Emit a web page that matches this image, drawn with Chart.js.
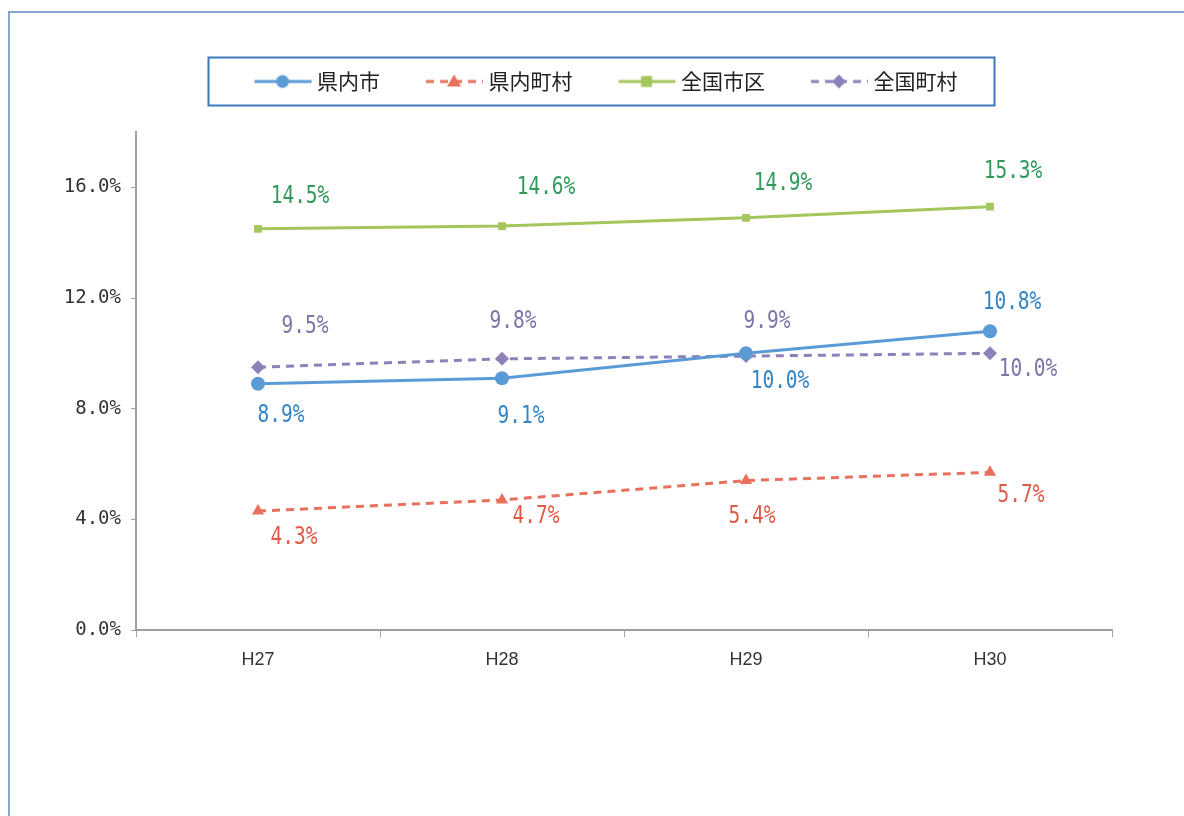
<!DOCTYPE html>
<html><head><meta charset="utf-8">
<script src="https://cdn.jsdelivr.net/npm/chart.js@4/dist/chart.umd.min.js"></script>
<style>
html,body{margin:0;padding:0;background:#fff;}
#wrap{position:relative;width:1184px;height:816px;overflow:hidden;background:#fff;}
#frame{position:absolute;left:8px;top:11px;width:1220px;height:900px;border-left:2px solid #86A9D2;border-top:2px solid #86A9D2;box-sizing:border-box;}
canvas{position:absolute;left:0;top:0;}
</style></head><body>
<div id="wrap"><div id="frame"></div><canvas id="c" width="1184" height="816"></canvas></div>
<script>
// ---- data ----
const categories = ['H27', 'H28', 'H29', 'H30'];
const seriesNames = ['県内市', '県内町村', '全国市区', '全国町村'];
const kennaiShi = [8.9, 9.1, 10.0, 10.8];
const kennaiChoson = [4.3, 4.7, 5.4, 5.7];
const zenkokuShiku = [14.5, 14.6, 14.9, 15.3];
const zenkokuChoson = [9.5, 9.8, 9.9, 10.0];
const yTickValues = [0, 4, 8, 12, 16];

// ---- styles ----
const lineColors = ['#5B9BD5', '#E8705C', '#A4C65C', '#8E80B8'];
const labelColors = ['#3385C6', '#E05A48', '#2F9A5A', '#7E74A8'];
const labelOffsets = [
  [[23, 32], [19, 38], [34, 28], [22, -29]],
  [[36, 26], [34, 17], [6, 36], [31, 23]],
  [[42, -32], [44, -39], [37, -34], [23, -35]],
  [[47, -41], [11, -37], [21, -35], [38, 16]]
];

function legendIcon(color, dash, style) {
  const c = document.createElement('canvas');
  c.width = 64; c.height = 20;
  const g = c.getContext('2d');
  g.strokeStyle = color; g.fillStyle = color; g.lineWidth = 3;
  g.setLineDash(dash);
  g.beginPath(); g.moveTo(6, 10); g.lineTo(63, 10); g.stroke();
  g.setLineDash([]);
  const cx = 34;
  g.beginPath();
  if (style === 'circle') { g.arc(cx, 10, 6.5, 0, Math.PI * 2); }
  else if (style === 'triangle') { g.moveTo(cx, 3); g.lineTo(cx + 7, 15); g.lineTo(cx - 7, 15); g.closePath(); }
  else if (style === 'rect') { g.rect(cx - 5.5, 4.5, 11, 11); }
  else { g.moveTo(cx, 3); g.lineTo(cx + 7, 10); g.lineTo(cx, 17); g.lineTo(cx - 7, 10); g.closePath(); }
  g.fill();
  return c;
}

const pointStyles = ['circle', 'triangle', 'rect', 'rectRot'];
const dashes = [[], [8, 6], [], [8, 6]];
const seriesData = [kennaiShi, kennaiChoson, zenkokuShiku, zenkokuChoson];
const pointRadii = [7, 7, 5.5, 7];
const icons = seriesNames.map((n, i) => legendIcon(lineColors[i], dashes[i], pointStyles[i]));

const datasets = seriesNames.map((name, i) => ({
  label: name,
  data: seriesData[i],
  borderColor: lineColors[i],
  backgroundColor: lineColors[i],
  borderWidth: 3,
  borderDash: dashes[i],
  pointStyle: pointStyles[i],
  pointRadius: pointRadii[i],
  pointBorderWidth: 0,
  pointBackgroundColor: lineColors[i],
  tension: 0,
  fill: false
}));

const legendSpacer = {
  id: 'legendSpacer',
  afterInit(chart, args, opts) {
    const lg = chart.legend;
    if (!lg) return;
    const orig = lg.fit;
    lg.fit = function () { orig.call(this); this.height += opts.extra; };
  },
  afterLayout(chart, args, opts) {
    const lg = chart.legend;
    if (!lg) return;
    lg.left += opts.shift; lg.right += opts.shift;
  }
};

const legendFrame = {
  id: 'legendFrame',
  afterDraw(chart, args, opts) {
    const lg = chart.legend;
    if (!lg || !lg.legendHitBoxes || !lg.legendHitBoxes.length) return;
    const hb = lg.legendHitBoxes;
    const l = Math.min(...hb.map(h => h.left)) - opts.padL;
    const r = Math.max(...hb.map(h => h.left + h.width)) + opts.padR;
    const t = Math.min(...hb.map(h => h.top)) - opts.padY;
    const b = Math.max(...hb.map(h => h.top + h.height)) + opts.padY;
    const ctx = chart.ctx;
    ctx.save();
    ctx.strokeStyle = opts.color; ctx.lineWidth = 2;
    ctx.strokeRect(l, t, r - l, b - t);
    ctx.restore();
  }
};

const pointLabels = {
  id: 'pointLabels',
  afterDatasetsDraw(chart, args, opts) {
    const ctx = chart.ctx;
    chart.data.datasets.forEach((ds, i) => {
      const meta = chart.getDatasetMeta(i);
      meta.data.forEach((pt, j) => {
        const off = opts.offsets[i][j];
        ctx.save();
        ctx.translate(pt.x + off[0], pt.y + off[1]);
        ctx.scale(opts.scaleX, 1);
        ctx.font = opts.font;
        ctx.fillStyle = opts.colors[i];
        ctx.textAlign = 'center';
        ctx.textBaseline = 'middle';
        ctx.fillText(ds.data[j].toFixed(1) + '%', 0, 0);
        ctx.restore();
      });
    });
  }
};

new Chart(document.getElementById('c'), {
  type: 'line',
  data: { labels: categories, datasets: datasets },
  plugins: [legendSpacer, legendFrame, pointLabels],
  options: {
    responsive: false,
    devicePixelRatio: 1,
    animation: false,
    layout: { padding: { left: 56, right: 72, top: 25, bottom: 126 } },
    plugins: {
      tooltip: { enabled: false },
      legendSpacer: { extra: 30, shift: 22 },
      legendFrame: { color: '#3A78B8', padL: 46, padR: 37, padY: 13.5 },
      pointLabels: { offsets: labelOffsets, colors: labelColors, font: '25px "DejaVu Sans Mono", monospace', scaleX: 0.78 },
      legend: {
        position: 'top',
        labels: {
          usePointStyle: true,
          pointStyleWidth: 52,
          padding: 46,
          color: '#222',
          font: { family: '"Noto Sans CJK JP", sans-serif', size: 21 },
          generateLabels(chart) {
            return chart.data.datasets.map((ds, i) => ({
              text: ds.label,
              pointStyle: icons[i],
              fillStyle: ds.borderColor,
              strokeStyle: ds.borderColor,
              lineWidth: 0,
              hidden: false,
              datasetIndex: i,
              fontColor: '#222'
            }));
          }
        }
      }
    },
    scales: {
      x: {
        type: 'category',
        offset: true,
        grid: { display: true, offset: true, drawOnChartArea: false, drawTicks: true, tickLength: 7, color: '#A0A0A0' },
        border: { display: true, color: '#A0A0A0', width: 2 },
        ticks: { color: '#333', padding: 12, font: { family: '"Liberation Sans", sans-serif', size: 18 } },
        afterFit(scale) { scale.height = 60; }
      },
      y: {
        min: 0,
        max: 18,
        grid: { display: true, drawOnChartArea: false, drawTicks: true, tickLength: 5, color: '#A0A0A0' },
        border: { display: true, color: '#A0A0A0', width: 2 },
        afterBuildTicks(scale) { scale.ticks = yTickValues.map(v => ({ value: v })); },
        ticks: {
          color: '#333',
          padding: 10,
          font: { family: '"DejaVu Sans Mono", monospace', size: 19 },
          callback: v => v.toFixed(1) + '%'
        },
        afterFit(scale) { scale.width = 80; }
      }
    }
  }
});
</script>
</body></html>
